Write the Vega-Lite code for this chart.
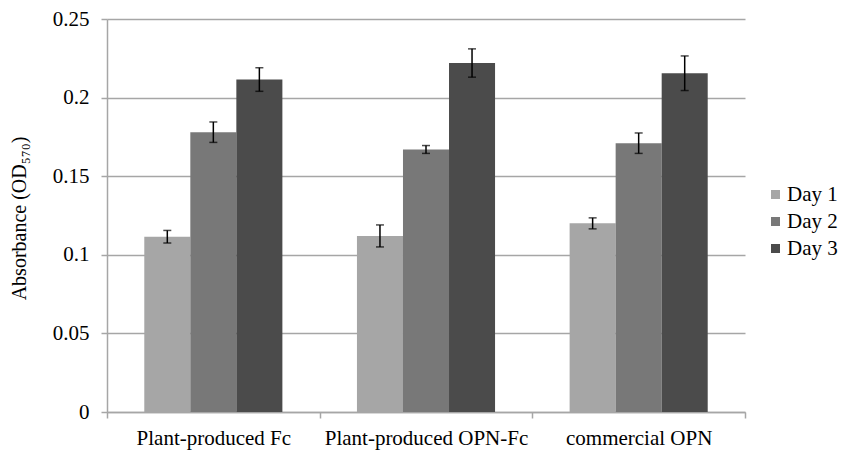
{
  "$schema": "https://vega.github.io/schema/vega-lite/v6.json",
  "width": 638,
  "height": 393,
  "autosize": "none",
  "padding": {"left": 107, "top": 19, "right": 97, "bottom": 41},
  "background": "white",
  "config": {
    "font": "Liberation Serif, serif",
    "view": {"stroke": null},
    "axis": {"labelFont": "Liberation Serif, serif", "titleFont": "Liberation Serif, serif"},
    "legend": {"labelFont": "Liberation Serif, serif"}
  },
  "data": {
    "values": [
      {"group": "Plant-produced Fc", "day": "Day 1", "value": 0.1115, "lo": 0.1075, "hi": 0.1155},
      {"group": "Plant-produced Fc", "day": "Day 2", "value": 0.178, "lo": 0.1715, "hi": 0.1845},
      {"group": "Plant-produced Fc", "day": "Day 3", "value": 0.2115, "lo": 0.204, "hi": 0.219},
      {"group": "Plant-produced OPN-Fc", "day": "Day 1", "value": 0.112, "lo": 0.105, "hi": 0.119},
      {"group": "Plant-produced OPN-Fc", "day": "Day 2", "value": 0.167, "lo": 0.1645, "hi": 0.1695},
      {"group": "Plant-produced OPN-Fc", "day": "Day 3", "value": 0.222, "lo": 0.213, "hi": 0.231},
      {"group": "commercial OPN", "day": "Day 1", "value": 0.12, "lo": 0.1165, "hi": 0.1235},
      {"group": "commercial OPN", "day": "Day 2", "value": 0.171, "lo": 0.1645, "hi": 0.1775},
      {"group": "commercial OPN", "day": "Day 3", "value": 0.2155, "lo": 0.2045, "hi": 0.2265}
    ]
  },
  "encoding": {
    "x": {
      "field": "group",
      "type": "nominal",
      "sort": ["Plant-produced Fc", "Plant-produced OPN-Fc", "commercial OPN"],
      "scale": {"paddingInner": 0, "paddingOuter": 0},
      "axis": {
        "title": null,
        "labelAngle": 0,
        "labelFont": "Liberation Serif, serif",
        "labelFontSize": 21,
        "labelColor": "black",
        "labelPadding": 9,
        "labelLimit": 0,
        "domainColor": "#a6a6a6",
        "domainWidth": 1.5,
        "tickColor": "#a6a6a6",
        "tickWidth": 1.5,
        "tickSize": 6,
        "tickBand": "extent",
        "grid": false
      }
    },
    "xOffset": {
      "field": "day",
      "type": "nominal",
      "sort": ["Day 1", "Day 2", "Day 3"],
      "scale": {"paddingInner": 0, "paddingOuter": 0.81}
    }
  },
  "layer": [
    {
      "mark": {"type": "bar"},
      "encoding": {
        "y": {
          "field": "value",
          "type": "quantitative",
          "scale": {"domain": [0, 0.25], "nice": false},
          "axis": {
            "title": "Absorbance (OD₅₇₀)",
            "titleFont": "Liberation Serif, serif",
            "titleFontSize": 20,
            "titleFontWeight": "normal",
            "titleColor": "black",
            "titleX": -78,
            "titleY": 199,
            "titleAngle": -90,
            "values": [0, 0.05, 0.1, 0.15, 0.2, 0.25],
            "format": ".2~f",
            "labelFont": "Liberation Serif, serif",
            "labelFontSize": 21,
            "labelColor": "black",
            "labelPadding": 12,
            "grid": true,
            "gridColor": "#a6a6a6",
            "gridWidth": 1.5,
            "domainColor": "#a6a6a6",
            "domainWidth": 1.5,
            "tickColor": "#a6a6a6",
            "tickWidth": 1.5,
            "tickSize": 6
          }
        },
        "color": {
          "field": "day",
          "type": "nominal",
          "sort": ["Day 1", "Day 2", "Day 3"],
          "scale": {"range": ["#a6a6a6", "#787878", "#4b4b4b"]},
          "legend": {
            "title": null,
            "orient": "none",
            "legendX": 658,
            "legendY": 165,
            "symbolType": "square",
            "symbolSize": 81,
            "symbolStrokeWidth": 0,
            "labelFont": "Liberation Serif, serif",
            "labelFontSize": 21,
            "labelColor": "black",
            "labelOffset": 1,
            "rowPadding": 5,
            "padding": 0
          }
        }
      }
    },
    {
      "mark": {"type": "rule", "color": "black", "strokeWidth": 1.5},
      "encoding": {
        "y": {"field": "lo", "type": "quantitative"},
        "y2": {"field": "hi"}
      }
    },
    {
      "mark": {"type": "tick", "color": "black", "size": 8, "thickness": 1.5},
      "encoding": {
        "y": {"field": "hi", "type": "quantitative"}
      }
    },
    {
      "mark": {"type": "tick", "color": "black", "size": 8, "thickness": 1.5},
      "encoding": {
        "y": {"field": "lo", "type": "quantitative"}
      }
    }
  ]
}
